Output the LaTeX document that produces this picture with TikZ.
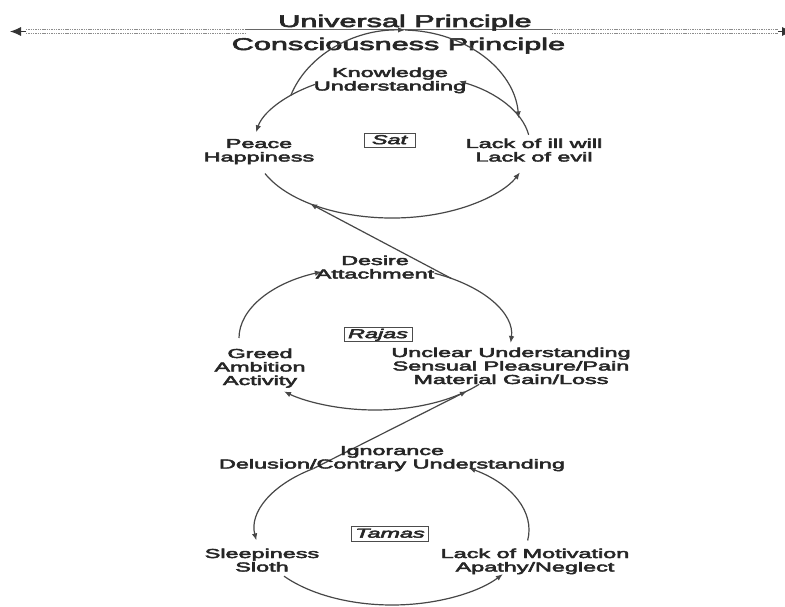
\documentclass[tikz,border=0pt]{standalone}
\usepackage{fontspec}
\setmainfont{Liberation Sans}
\newfontfamily\heavy{Liberation Sans}[FakeBold=3]
\usetikzlibrary{calc,arrows.meta}
% wide (horizontally stretched) text, one line or a centred stack of lines
\newcommand\wst[1]{\scalebox{1.8}[1]{\begin{tabular}[t]{@{}c@{}}#1\end{tabular}}}
\newcommand\wone[1]{\scalebox{1.8}[1]{#1}}
\begin{document}
\begin{tikzpicture}[x=1pt,y=-1pt,
  lbl/.style={font=\heavy\fontsize{13}{13.5}\selectfont, text=black!85, inner sep=0pt, anchor=base},
  ttl/.style={font=\heavy\fontsize{17}{20}\selectfont, text=black!85, inner sep=0pt, anchor=base},
  gbox/.style={draw=black!70, line width=0.8pt, font=\heavy\fontsize{13}{13.5}\selectfont\itshape,
    text=black!85, text height=9.5pt, text depth=2.2pt, inner ysep=1.4pt},
  conn/.style={draw=black!72, line width=1.2pt, -{Latex[length=7pt,width=5.5pt]}},
  dline/.style={draw=black!45, line width=0.9pt, dash pattern=on 1.4pt off 0.9pt},
  endtip/.style={draw=black!80, line width=0.9pt, -{Latex[length=11pt,width=9pt]}}
]
\fill[white] (0,0) rectangle (785,607);
\useasboundingbox (0,0) rectangle (785,607);

% ---- principle line across the top ----
\coordinate (lnL) at (10,31.5);
\coordinate (lnL2) at (26,31.5);
\coordinate (lnA) at (245,31.5);
\coordinate (lnB) at (552,31.5);
\coordinate (lnR2) at (778,31.5);
\coordinate (lnR) at (793,31.5);
\draw[dline] ($(lnL2)+(0,-1.6)$) -- ($(lnA)+(0,-1.6)$);
\draw[dline] ($(lnL2)+(0,1.6)$) -- ($(lnA)+(0,1.6)$);
\draw[dline] ($(lnB)+(0,-1.6)$) -- ($(lnR2)+(0,-1.6)$);
\draw[dline] ($(lnB)+(0,1.6)$) -- ($(lnR2)+(0,1.6)$);
\draw[draw=black!60, line width=0.9pt, double=white, double distance=2.2pt] (lnA) -- (lnB);
\draw[endtip] (lnL2) -- (lnL);
\draw[endtip] (lnR2) -- (lnR);

\node[ttl] (univ) at (405,27) {\wone{Universal Principle}};
\node[ttl] (consc) at (398.5,50) {\wone{Consciousness Principle}};

% ---- centres of the three cycles and the outer loop ----
\coordinate (satC) at (392,145);
\coordinate (bigC) at (402,125);
\coordinate (rajC) at (375,338);
\coordinate (tamC) at (392,530);

% ---- Sat cycle ----
\coordinate (s1) at ($(satC)+(-124:138 and 73)$);
\coordinate (s2) at ($(satC)+(-8:138 and 73)$);
\coordinate (s3) at ($(satC)+(-203:138 and 73)$);
\coordinate (sj) at ($(satC)+(-233.6:138 and 73)$);
\draw[conn] (s1) arc[start angle=-124, end angle=-170, x radius=138, y radius=73];
\draw[conn] (s2) arc[start angle=-8, end angle=-61, x radius=138, y radius=73];
\draw[conn] (s3) arc[start angle=-203, end angle=-338, x radius=138, y radius=73];

% outer loop up to the principle line
\coordinate (b1) at ($(bigC)+(-162:117 and 95)$);
\coordinate (b2) at ($(bigC)+(-88.5:117 and 95)$);
\draw[conn] (b1) arc[start angle=-162, end angle=-88.5, x radius=117, y radius=95];
\draw[conn] (b2) arc[start angle=-88.5, end angle=-4, x radius=117, y radius=95];

% ---- Rajas cycle ----
\coordinate (r1) at ($(rajC)+(-180:136 and 72)$);
\coordinate (r2) at ($(rajC)+(-64:136 and 72)$);
\coordinate (r3) at ($(rajC)+(-320:136 and 72)$);
\coordinate (rj) at ($(rajC)+(-56:136 and 72)$);
\coordinate (ri) at ($(rajC)+(-312.5:136 and 72)$);
\draw[conn] (r1) arc[start angle=-180, end angle=-113, x radius=136, y radius=72];
\draw[conn] (r2) arc[start angle=-64, end angle=4, x radius=136, y radius=72];
\draw[conn] (r3) arc[start angle=-320, end angle=-228, x radius=136, y radius=72];
\draw[conn] (rj) -- (sj);

% ---- Tamas cycle ----
\coordinate (t1) at ($(tamC)+(-125:137 and 75)$);
\coordinate (t2) at ($(tamC)+(-218:137 and 75)$);
\coordinate (t3) at ($(tamC)+(-352:137 and 75)$);
\draw[conn] (t1) arc[start angle=-125, end angle=-188, x radius=137, y radius=75];
\draw[conn] (t2) arc[start angle=-218, end angle=-324, x radius=137, y radius=75];
\draw[conn] (t3) arc[start angle=-352, end angle=-416, x radius=137, y radius=75];
\draw[conn] (t1) -- (ri);

% ---- labels ----
\node[lbl] (know) at (390,77) {\wst{Knowledge\\Understanding}};
\node[lbl] (peace) at (259,148) {\wst{Peace\\Happiness}};
\node[lbl] (lackill) at (534,148) {\wst{Lack of ill will\\Lack of evil}};
\node[gbox, inner xsep=8pt] (sat) at (389.5,140.5) {\wone{Sat}};

\node[lbl] (desire) at (375,265) {\wst{Desire\\Attachment}};
\node[lbl] (greed) at (260,358) {\wst{Greed\\Ambition\\Activity}};
\node[lbl] (unclear) at (511,357) {\wst{Unclear Understanding\\Sensual Pleasure/Pain\\Material Gain/Loss}};
\node[gbox, inner xsep=4pt] (raj) at (378,334.5) {\wone{Rajas}};

\node[lbl] (ignor) at (392,455) {\wst{Ignorance\\Delusion/Contrary Understanding}};
\node[lbl] (sleep) at (262,558) {\wst{Sleepiness\\Sloth}};
\node[lbl] (lackmot) at (535,558) {\wst{Lack of Motivation\\Apathy/Neglect}};
\node[gbox, inner xsep=4pt] (tam) at (390,534) {\wone{Tamas}};
\end{tikzpicture}
\end{document}
